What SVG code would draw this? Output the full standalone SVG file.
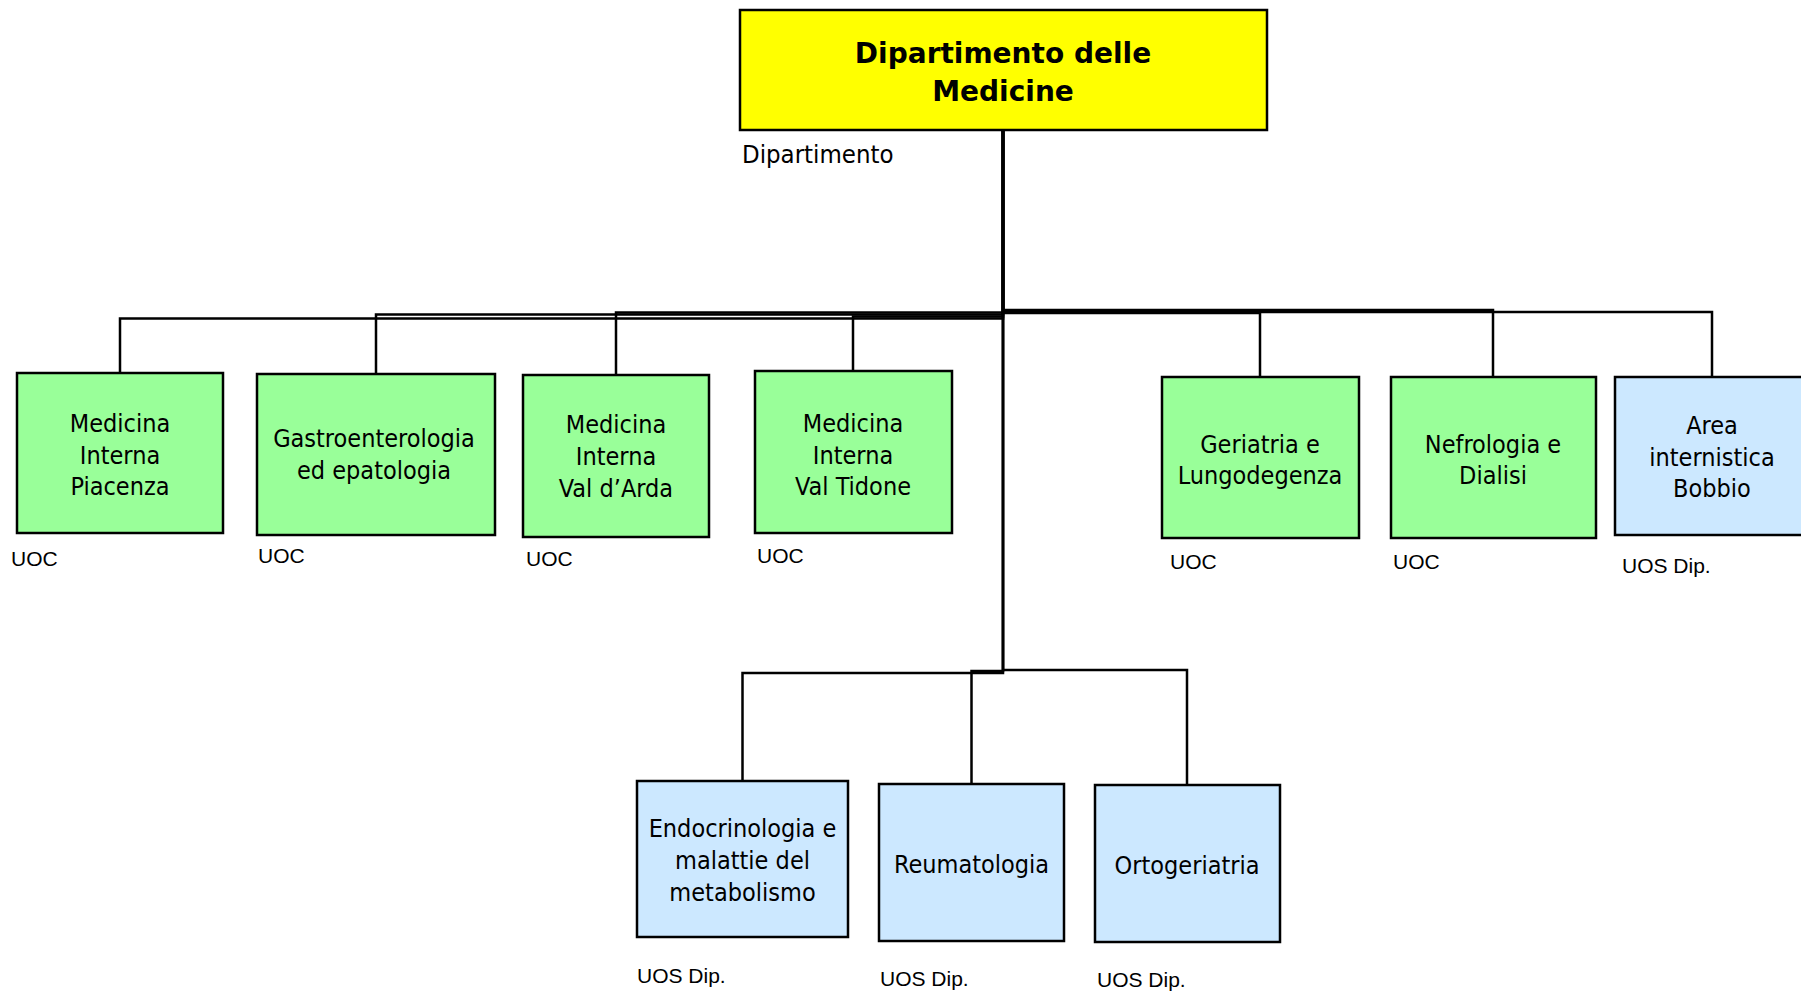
<svg xmlns="http://www.w3.org/2000/svg" width="1801" height="993" viewBox="0 0 1801 993">
<style>
.box{stroke:#000;stroke-width:2.5}
.g{fill:#99ff99}
.b{fill:#cce8ff}
.y{fill:#ffff00}
.t{font-family:"DejaVu Sans Condensed","DejaVu Sans",sans-serif;font-size:25px;fill:#000;text-anchor:middle}
.tt{font-family:"DejaVu Sans",sans-serif;font-weight:bold;font-size:28px;fill:#000;text-anchor:middle}
.lbl{font-family:"Liberation Sans",Arial,sans-serif;font-size:21px;fill:#000}
.dl{font-family:"DejaVu Sans Condensed","DejaVu Sans",sans-serif;font-size:25.5px;fill:#000}
.c{fill:none;stroke:#000;stroke-width:2.5}
</style>
<rect width="1801" height="993" fill="#fff"/>
<g id="connectors">
<path class="c" d="M1003,130 V318.5 H120 V373"/>
<path class="c" d="M1003,130 V314.5 H376 V374"/>
<path class="c" d="M1003,130 V312.5 H616 V375"/>
<path class="c" d="M1003,130 V316.5 H853 V371"/>
<path class="c" d="M1003,130 V313 H1260 V377"/>
<path class="c" d="M1003,130 V310 H1493 V377"/>
<path class="c" d="M1003,130 V312 H1712 V377"/>
<path class="c" d="M1003,130 V673 H742.5 V781"/>
<path class="c" d="M1003,130 V671 H971.5 V784"/>
<path class="c" d="M1003,130 V670 H1187 V785"/>
</g>
<g id="dip">
<rect class="box y" x="740" y="10" width="527" height="120"/>
<text class="tt" x="1003" y="63">Dipartimento delle</text>
<text class="tt" x="1003" y="101">Medicine</text>
<text class="dl" x="742" y="163">Dipartimento</text>
</g>
<g id="mip">
<rect class="box g" x="17" y="373" width="206" height="160"/>
<text class="t" x="120" y="432">Medicina</text>
<text class="t" x="120" y="463.5">Interna</text>
<text class="t" x="120" y="495">Piacenza</text>
<text class="lbl" x="11" y="566">UOC</text>
</g>
<g id="gastro">
<rect class="box g" x="257" y="374" width="238" height="161"/>
<text class="t" x="374" y="447">Gastroenterologia</text>
<text class="t" x="374" y="479">ed epatologia</text>
<text class="lbl" x="258" y="563">UOC</text>
</g>
<g id="mivda">
<rect class="box g" x="523" y="375" width="186" height="162"/>
<text class="t" x="616" y="433">Medicina</text>
<text class="t" x="616" y="465">Interna</text>
<text class="t" x="616" y="497">Val d’Arda</text>
<text class="lbl" x="526" y="566">UOC</text>
</g>
<g id="mivt">
<rect class="box g" x="755" y="371" width="197" height="162"/>
<text class="t" x="853" y="432">Medicina</text>
<text class="t" x="853" y="463.5">Interna</text>
<text class="t" x="853" y="495">Val Tidone</text>
<text class="lbl" x="757" y="563">UOC</text>
</g>
<g id="geriatria">
<rect class="box g" x="1162" y="377" width="197" height="161"/>
<text class="t" x="1260" y="453">Geriatria e</text>
<text class="t" x="1260" y="484">Lungodegenza</text>
<text class="lbl" x="1170" y="569">UOC</text>
</g>
<g id="nefro">
<rect class="box g" x="1391" y="377" width="205" height="161"/>
<text class="t" x="1493" y="453">Nefrologia e</text>
<text class="t" x="1493" y="484">Dialisi</text>
<text class="lbl" x="1393" y="569">UOC</text>
</g>
<g id="bobbio">
<rect class="box b" x="1615" y="377" width="200" height="158"/>
<text class="t" x="1712" y="434">Area</text>
<text class="t" x="1712" y="466">internistica</text>
<text class="t" x="1712" y="497">Bobbio</text>
<text class="lbl" x="1622" y="573">UOS Dip.</text>
</g>
<g id="endo">
<rect class="box b" x="637" y="781" width="211" height="156"/>
<text class="t" x="742.5" y="837">Endocrinologia e</text>
<text class="t" x="742.5" y="869">malattie del</text>
<text class="t" x="742.5" y="901">metabolismo</text>
<text class="lbl" x="637" y="983">UOS Dip.</text>
</g>
<g id="reuma">
<rect class="box b" x="879" y="784" width="185" height="157"/>
<text class="t" x="971.5" y="873">Reumatologia</text>
<text class="lbl" x="880" y="986">UOS Dip.</text>
</g>
<g id="orto">
<rect class="box b" x="1095" y="785" width="185" height="157"/>
<text class="t" x="1187" y="874">Ortogeriatria</text>
<text class="lbl" x="1097" y="987">UOS Dip.</text>
</g>
</svg>
